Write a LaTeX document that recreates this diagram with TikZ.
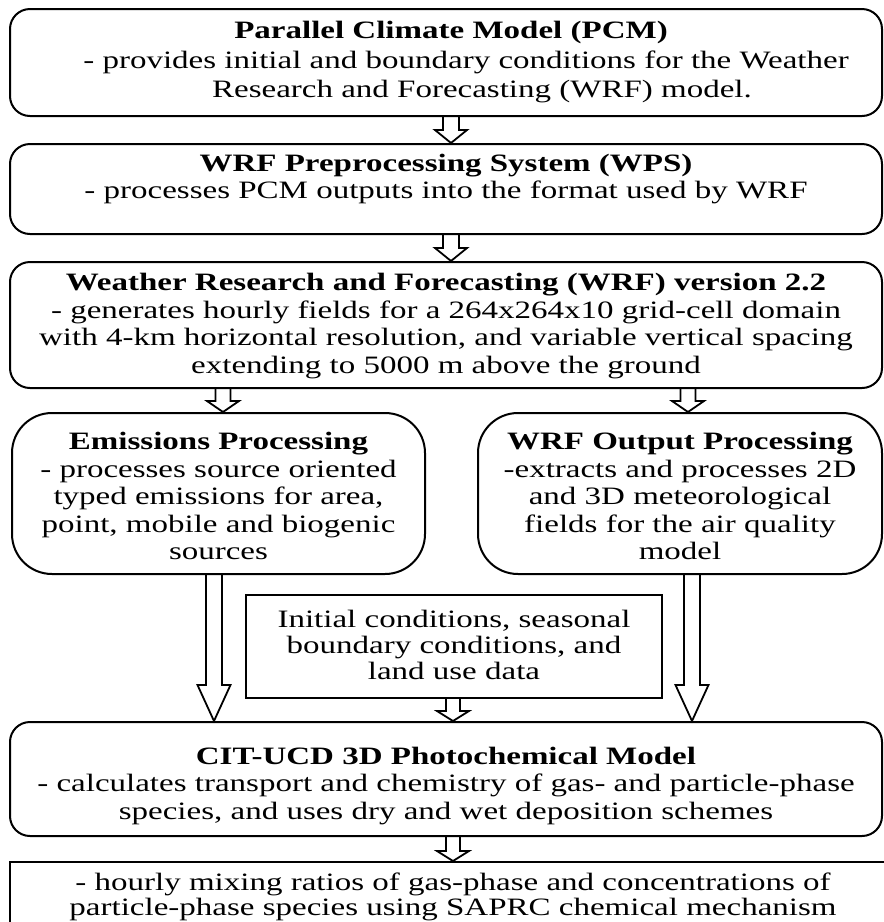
\documentclass[tikz,border=0pt]{standalone}
\usepackage{fontspec}
\setmainfont[FakeStretch=1.32]{Liberation Serif}
\usetikzlibrary{calc}
\newcommand\blk[6]{\draw[blkline] let \p1=(#1), \p2=(#2), \p3=(#3) in
 ({\x3-#4},\y1) -- ({\x3-#4},{\y2+#6}) -- ({\x3-#5},{\y2+#6}) -- (\x3,\y2) -- ({\x3+#5},{\y2+#6}) -- ({\x3+#4},{\y2+#6}) -- ({\x3+#4},\y1);}
\begin{document}
\begin{tikzpicture}[x=1pt,y=-1pt,
  txt/.style={align=center, font=\fontsize{25}{27.5}\selectfont, inner sep=0pt},
  frame/.style={draw, line width=2pt, inner sep=0pt},
  rbox/.style={frame, rounded corners=20pt},
  rbig/.style={frame, rounded corners=40pt},
  blkline/.style={line width=1.8pt, line join=miter}]
\useasboundingbox (0,0) rectangle (884,922);
\fill[white] (0,0) rectangle (884,922);

% frames
\node[rbox, minimum width=872pt, minimum height=107pt] (pcm) at (446,62.5) {};
\node[rbox, minimum width=872pt, minimum height=90pt] (wps) at (446,189) {};
\node[rbox, minimum width=872pt, minimum height=126pt] (wrf) at (446,325) {};
\node[rbig, minimum width=413pt, minimum height=161pt] (emis) at (218.5,493.5) {};
\node[rbig, minimum width=404pt, minimum height=161pt] (wout) at (680,493.5) {};
\node[frame, minimum width=416pt, minimum height=103pt] (init) at (454,646.5) {};
\node[rbox, minimum width=872pt, minimum height=114pt] (cit) at (446,779) {};
\node[frame, minimum width=892pt, minimum height=80pt] (out) at (456,902) {};

% texts
\node[txt] (pcm1) at (451,32) {\textbf{Parallel Climate Model (PCM)}};
\node[txt] (pcm2) at (466,62) {- provides initial and boundary conditions for the Weather};
\node[txt] (pcm3) at (482,92) {Research and Forecasting (WRF) model.};
\node[txt] (wpst) at (446,179) {\textbf{WRF Preprocessing System (WPS)}\\ - processes PCM outputs into the format used by WRF};
\node[txt] (wrft) at (446,326) {\textbf{Weather Research and Forecasting (WRF) version 2.2}\\ - generates hourly fields for a 264x264x10 grid-cell domain\\ with 4-km horizontal resolution, and variable vertical spacing\\ extending to 5000 m above the ground};
\node[txt] (emist) at (218.5,496) {\textbf{Emissions Processing}\\ - processes source oriented\\ typed emissions for area,\\ point, mobile and biogenic\\ sources};
\node[txt] (woutt) at (680,496) {\textbf{WRF Output Processing}\\ -extracts and processes 2D\\ and 3D meteorological\\ fields for the air quality\\ model};
\node[txt, font=\fontsize{25}{26}\selectfont] (initt) at (454,645) {Initial conditions, seasonal\\ boundary conditions, and\\ land use data};
\node[txt] (citt) at (446,786) {\textbf{CIT-UCD 3D Photochemical Model}\\ - calculates transport and chemistry of gas- and particle-phase\\ species, and uses dry and wet deposition schemes};
\node[txt, font=\fontsize{25}{25.5}\selectfont] (outt) at (453,897) {- hourly mixing ratios of gas-phase and concentrations of\\ particle-phase species using SAPRC chemical mechanism};

\coordinate (a1) at (451,0);
\coordinate (aL) at (223,0);
\coordinate (aR) at (688,0);
\coordinate (bL) at (214,0);
\coordinate (bR) at (692,0);
\coordinate (aM) at (453,0);

\blk{pcm.south}{wps.north}{a1}{8pt}{16pt}{13pt}
\blk{wps.south}{wrf.north}{a1}{8pt}{16pt}{13pt}
\blk{wrf.south}{emis.north}{aL}{7.5pt}{16pt}{11pt}
\blk{wrf.south}{wout.north}{aR}{7.5pt}{16pt}{11pt}
\blk{emis.south}{cit.north}{bL}{8pt}{16.5pt}{36pt}
\blk{wout.south}{cit.north}{bR}{8pt}{16.5pt}{36pt}
\blk{init.south}{cit.north}{aM}{7pt}{16pt}{10pt}
\blk{cit.south}{out.north}{aM}{7pt}{16pt}{10pt}
\end{tikzpicture}
\end{document}
